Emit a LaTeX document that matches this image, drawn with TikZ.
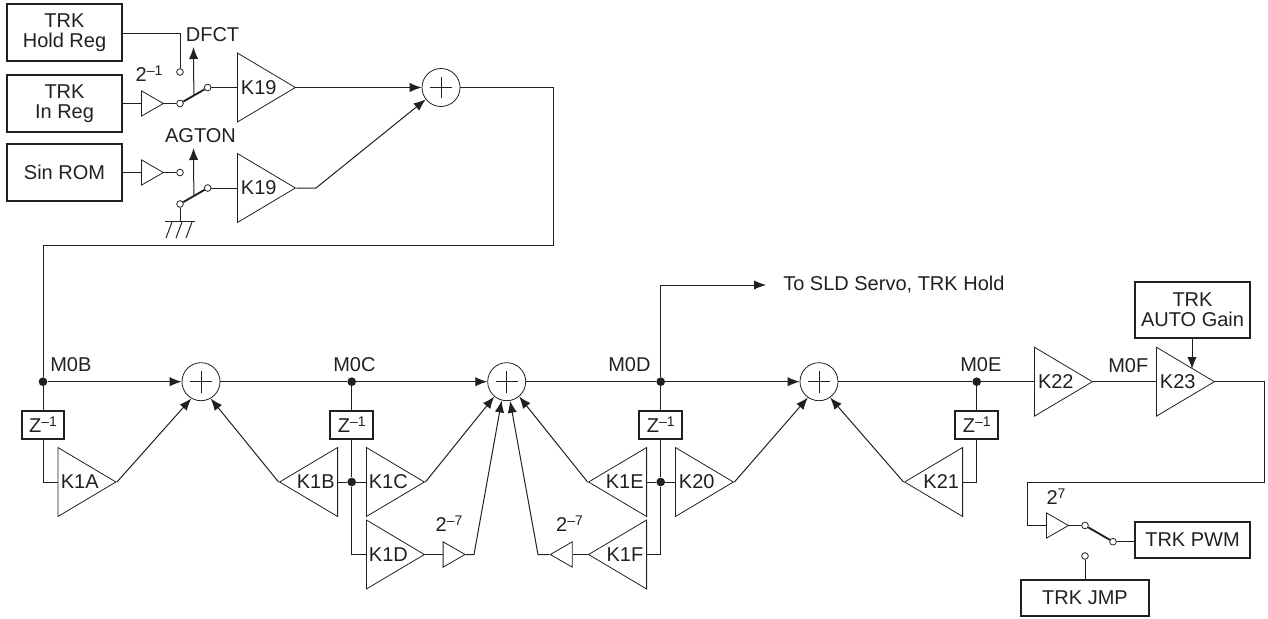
\documentclass[tikz,border=0pt]{standalone}
\usepackage{fontspec}
\setmainfont{Liberation Sans}
\usetikzlibrary{arrows.meta,shapes.geometric}
\definecolor{ink}{HTML}{231F20}
\newcommand{\supx}[1]{\raisebox{4.6pt}{\fontsize{10.5}{10.5}\selectfont #1}}
\tikzset{
  every node/.style={font=\fontsize{15}{15}\selectfont, text=ink},
  wire/.style={draw=ink, line width=0.75pt, line join=miter},
  arr/.style={wire, -{Latex[length=9pt,width=7pt]}},
  regbox/.style={draw=ink, line width=1.5pt, align=center, inner sep=0pt, minimum width=86pt},
  zbox/.style={draw=ink, line width=1.5pt, minimum width=32.2pt, minimum height=21pt, inner sep=0pt},
  amp/.style={draw=ink, line width=0.6pt, isosceles triangle, isosceles triangle stretches, inner sep=0pt, minimum width=51.75pt, minimum height=43.5pt},
  ampsmall/.style={amp, minimum width=19pt, minimum height=16.5pt},
  ampR/.style={shape border rotate=0, anchor=lower side},
  ampL/.style={shape border rotate=180, anchor=lower side},
  summer/.style={draw=ink, line width=0.6pt, circle, inner sep=0pt, minimum size=28.5pt,
    path picture={\draw[ink, line width=0.5pt] (path picture bounding box.center) +(-8.2pt,0) -- +(8.2pt,0) +(0,-8.2pt) -- +(0,8.2pt);}},
  term/.style={draw=ink, fill=white, line width=0.6pt, circle, inner sep=0pt, minimum size=5pt},
  dotn/.style={fill=ink, circle, inner sep=0pt, minimum size=6.5pt},
  arm/.style={draw=ink, line width=1.4pt},
  tag/.style={inner sep=0pt}
}
\begin{document}
\begin{tikzpicture}[x=0.75pt,y=-0.75pt]
\useasboundingbox (0,0) rectangle (1268,618);

% registers
\node[regbox, minimum height=42.5pt] (hold) at (64.5,32.5) {TRK\\Hold Reg};
\node[regbox, minimum height=42.5pt] (inreg) at (64.5,103.5) {TRK\\In Reg};
\node[regbox, minimum height=42.5pt] (sinrom) at (64.5,172.5) {Sin ROM};
\node[regbox, minimum height=42.5pt] (autog) at (1192.5,310) {TRK\\AUTO Gain};
\node[regbox, minimum height=26.5pt] (pwm) at (1192.5,540) {TRK PWM};
\node[regbox, minimum height=26.5pt, minimum width=96.5pt] (jmp) at (1085,598) {TRK JMP};

% upper amplifiers
\node[ampsmall, ampR] (a1) at (141,103.5) {};
\node[ampsmall, ampR] (a2) at (141,172.5) {};
\node[amp, ampR] (k19a) at (237,87.5) {K19};
\node[amp, ampR] (k19b) at (237,188) {K19};

% upper switches
\node[term] (t1) at (180,72) {};
\node[term] (t2) at (180,103.5) {};
\node[term] (t3) at (207.7,87.5) {};
\node[term] (t4) at (180,172.5) {};
\node[term] (t5) at (180,204) {};
\node[term] (t6) at (207.7,188) {};
\coordinate (dfcttip) at (193.5,47);
\coordinate (agtontip) at (193.5,148);
\coordinate (holdc) at (180,33);
\coordinate (gndtop) at (180,221.5);
\coordinate (gl) at (165,221.5);
\coordinate (gr) at (195,221.5);
\coordinate (jog) at (316,188);

\draw[wire] (hold.east |- holdc) -- (holdc) -- (t1);
\draw[wire] (inreg.east) -- (a1.lower side);
\draw[wire] (a1.apex) -- (t2);
\draw[wire] (sinrom.east) -- (a2.lower side);
\draw[wire] (a2.apex) -- (t4);
\draw[arm] (t2) -- coordinate[pos=.5] (m1) (t3);
\draw[arm] (t5) -- coordinate[pos=.5] (m2) (t6);
\draw[arr] (m1) -- (dfcttip);
\draw[arr] (m2) -- (agtontip);
\draw[wire] (t3) -- (k19a.lower side);
\draw[wire] (t6) -- (k19b.lower side);
\draw[wire] (t5) -- (gndtop);
\draw[draw=ink, line width=1.2pt] (gl) -- (gr);
\draw[wire] (172,222) -- (166,238) (182,222) -- (176,238) (192,222) -- (186,238);

\node[tag] at (149,74) {2\supx{–1}};
\node[tag] at (212.5,35) {DFCT};
\node[tag] at (200.5,136) {AGTON};

% summers
\node[summer] (s0) at (441,87.5) {};
\node[summer] (s1) at (201,381.7) {};
\node[summer] (s2) at (506.7,381.7) {};
\node[summer] (s3) at (819,381.7) {};

\draw[arr] (k19a.apex) -- (s0.west);
\draw[arr] (k19b.apex) -- (jog) -- (s0.218);
\coordinate (r1) at (553,87.5);
\coordinate (r2) at (553,245);
\coordinate (r3) at (43,245);

% main line
\node[dotn] (d0b) at (43,381.7) {};
\node[dotn] (d0c) at (351.7,381.7) {};
\node[dotn] (d0d) at (660.7,381.7) {};
\node[dotn] (d0e) at (976.7,381.7) {};
\draw[wire] (s0.east) -- (r1) -- (r2) -- (r3) -- (d0b);
\draw[arr] (d0b) -- (s1.west);
\draw[wire] (s1.east) -- (d0c);
\draw[arr] (d0c) -- (s2.west);
\draw[wire] (s2.east) -- (d0d);
\draw[arr] (d0d) -- (s3.west);
\draw[wire] (s3.east) -- (d0e);

\node[tag, anchor=west] at (50,365) {M0B};
\node[tag, anchor=west] at (333,365) {M0C};
\node[tag, anchor=west] at (608,365) {M0D};
\node[tag, anchor=west] at (960,365) {M0E};
\node[tag, anchor=west] at (1108,366) {M0F};

% to SLD
\node[tag, anchor=west] (sld) at (783,285) {To SLD Servo, TRK Hold};
\coordinate (sldc) at (660.7,285);
\coordinate (sldtip) at (766,285);
\draw[arr] (d0d) -- (sldc) -- (sldtip);

% delay boxes
\node[zbox] (z1) at (43,424.5) {Z\supx{–1}};
\node[zbox] (z2) at (351.7,424.5) {Z\supx{–1}};
\node[zbox] (z3) at (660.7,424.5) {Z\supx{–1}};
\node[zbox] (z4) at (976.7,424.5) {Z\supx{–1}};
\draw[wire] (d0b) -- (z1);
\draw[wire] (d0c) -- (z2);
\draw[wire] (d0d) -- (z3);
\draw[wire] (d0e) -- (z4);

% feedback amplifiers
\node[amp, ampR] (k1a) at (57.5,482) {K1A};
\node[amp, ampL] (k1b) at (338,482) {K1B};
\node[amp, ampR] (k1c) at (366,482) {K1C};
\node[amp, ampR] (k1d) at (366,554.5) {K1D};
\node[amp, ampL] (k1e) at (647,482) {K1E};
\node[amp, ampL] (k1f) at (647,554.5) {K1F};
\node[amp, ampR] (k20) at (675,482) {K20};
\node[amp, ampL] (k21) at (963,482) {K21};
\node[ampsmall, ampR] (g1) at (442.7,554.5) {};
\node[ampsmall, ampL] (g2) at (572.7,554.5) {};
\node[dotn] (dc) at (351.7,482) {};
\node[dotn] (dd) at (660.7,482) {};
\coordinate (g1o) at (474,554.5);
\coordinate (g2o) at (538,554.5);

\draw[wire] (z1.south) |- (k1a.lower side);
\draw[wire] (z2.south) -- (dc);
\draw[wire] (dc) |- (k1d.lower side);
\draw[wire] (k1b.lower side) -- (dc) -- (k1c.lower side);
\draw[wire] (z3.south) -- (dd);
\draw[wire] (dd) |- (k1f.lower side);
\draw[wire] (k1e.lower side) -- (dd) -- (k20.lower side);
\draw[wire] (z4.south) |- (k21.lower side);
\draw[wire] (k1d.apex) -- (g1.lower side);
\draw[wire] (k1f.apex) -- (g2.lower side);

\draw[arr] (k1a.apex) -- (s1.240);
\draw[arr] (k1b.apex) -- (s1.300);
\draw[arr] (k1c.apex) -- (s2.230);
\draw[arr] (k1e.apex) -- (s2.310);
\draw[arr] (g1.apex) -- (g1o) -- (s2.255);
\draw[arr] (g2.apex) -- (g2o) -- (s2.280);
\draw[arr] (k20.apex) -- (s3.235);
\draw[arr] (k21.apex) -- (s3.305);

\node[tag] at (449,524) {2\supx{–7}};
\node[tag] at (569.5,524) {2\supx{–7}};

% output section
\node[amp, ampR] (k22) at (1034,381.7) {K22};
\node[amp, ampR] (k23) at (1156,381.7) {K23};
\coordinate (k23in) at (1192,369);
\draw[wire] (d0e) -- (k22.lower side);
\draw[wire] (k22.apex) -- (k23.lower side);
\draw[arr] (autog.south -| k23in) -- (k23in);

\node[ampsmall, ampR] (g3) at (1046,525.5) {};
\node[term] (t7) at (1085,525.5) {};
\node[term] (t8) at (1113,541.7) {};
\node[term] (t9) at (1085,556) {};
\coordinate (o1) at (1264,381.7);
\coordinate (o2) at (1264,482);
\coordinate (o3) at (1027,482);
\coordinate (o4) at (1027,525.5);
\draw[wire] (k23.apex) -- (o1) -- (o2) -- (o3) -- (o4) -- (g3.lower side);
\draw[wire] (g3.apex) -- (t7);
\draw[arm] (t7) -- (t8);
\draw[wire] (t8) -- (pwm.west |- t8);
\draw[wire] (t9) -- (jmp.north);
\node[tag] at (1056,497) {2\supx{7}};
\end{tikzpicture}
\end{document}
